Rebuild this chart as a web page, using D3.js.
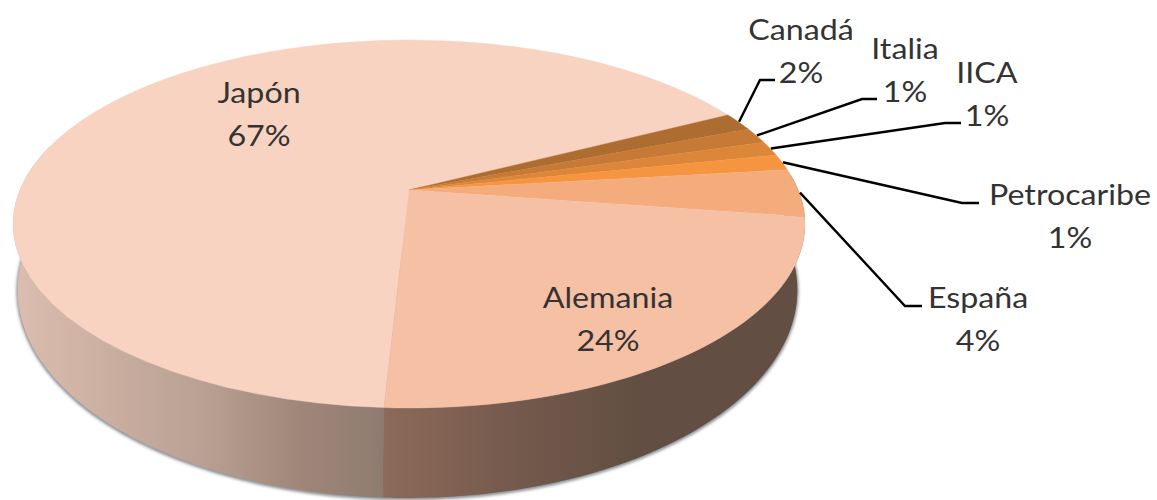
<!DOCTYPE html>
<html><head><meta charset="utf-8">
<style>html,body{margin:0;padding:0;background:#fff}svg{display:block}text{font-family:Lato,"Open Sans",sans-serif;font-size:28.5px;fill:#333;text-anchor:middle}</style>
<script src="https://cdn.jsdelivr.net/npm/d3@7/dist/d3.min.js"></script>
</head><body><svg id="c" width="1157" height="500"></svg>
<script>
// Data, clockwise from the front of the pie
const categories = ["Japón","Canadá","Italia","IICA","Petrocaribe","España","Alemania"];
const shares = [66.6,1.6,1.4,1.3,1.4,4.2,23.5];
const colors = ["#f8d3c1","#ad6c30","#c67a35","#dc863a","#f6953f","#f5ac7c","#f6c0a5"];
// Layout: label centre and first baseline; leader elbow and end
const labelAt = {"Japón":[259,103],"Canadá":[801,40],"Italia":[905,59],"IICA":[987,83],"Petrocaribe":[1070,205],"España":[978,308],"Alemania":[608,308]};
const elbowAt = {"Canadá":[[760,80],[775,80]],"Italia":[[862,99],[877,99]],"IICA":[[945,123],[961,123]],"Petrocaribe":[[962,203],[979,203]],"España":[[905,306],[922,306]]};
const lineGap = 43;
const textStretch = 1.13;

const svg = d3.select("#c");
const rad = d => d*Math.PI/180;
// perspective projections of the top and bottom discs
const disc = (cx,cy,a,b,k) => (alpha,r=1) => {
  const u = r*Math.sin(alpha), v = -r*Math.cos(alpha), w = 1+k*v;
  return [cx+a*u/w, cy+b*v/w];
};
const topDisc = disc(409,190,389.2,177.7,-0.1848);
const botDisc = disc(407.5,248.4,382,199.7,-0.2);

const pie = d3.pie().sort(null).startAngle(rad(183)).endAngle(rad(543));
const arcs = pie(shares).map((d,i)=>({...d,name:categories[i],color:colors[i]}));
const samples = (a0,a1) => d3.range(0,61).map(i=>a0+(a1-a0)*i/60);
const line = d3.line();
const pct = d3.format(".0f");
const total = d3.sum(shares);

const defs = svg.append("defs");
defs.append("filter").attr("id","blur").attr("x","-5%").attr("y","-5%").attr("width","110%").attr("height","110%")
  .append("feGaussianBlur").attr("stdDeviation",1.5);
const grad = (id,stops)=>{
  const g = defs.append("linearGradient").attr("id",id).attr("gradientUnits","userSpaceOnUse")
    .attr("x1",14).attr("x2",800).attr("y1",0).attr("y2",0);
  stops.forEach(s=>g.append("stop").attr("offset",(s[0]-14)/786).attr("stop-color",s[1]));
};
grad("wallJ",[[14,"#dcbdaf"],[200,"#b9a193"],[300,"#a08679"],[384,"#8e7b70"]]);
grad("wallA",[[384,"#8d6a5a"],[520,"#73594c"],[640,"#624e42"],[800,"#624e42"]]);

// shadow under the base
svg.append("path").attr("d",line(samples(rad(90),rad(270)).map(a=>botDisc(a)))+"Z")
  .attr("fill","#8a8f92").attr("stroke","#8a8f92").attr("stroke-width",2.5)
  .attr("filter","url(#blur)").attr("transform","translate(0,1)");

// walls of the slices facing the viewer
const wallFill = {"Japón":"url(#wallJ)","Alemania":"url(#wallA)"};
arcs.filter(d=>wallFill[d.name]).forEach(d=>{
  const [a0,a1] = d.name==="Japón" ? [d.startAngle,rad(285)] : [rad(85),rad(183)];
  const s = samples(a0,a1);
  const pts = s.map(a=>topDisc(a)).concat(s.slice().reverse().map(a=>botDisc(a)));
  svg.append("path").attr("d",line(pts)+"Z").attr("fill",wallFill[d.name]);
});

// top faces
arcs.forEach(d=>{
  const pts = [topDisc(0,0)].concat(samples(d.startAngle,d.endAngle).map(a=>topDisc(a)));
  svg.append("path").attr("d",line(pts)+"Z").attr("fill",d.color).attr("stroke",d.color).attr("stroke-width",.4);
});

// leader lines
arcs.filter(d=>elbowAt[d.name]).forEach(d=>{
  const mid = (d.startAngle+d.endAngle)/2;
  svg.append("path").attr("d",line([topDisc(mid,1.002),...elbowAt[d.name]]))
    .attr("fill","none").attr("stroke","#000").attr("stroke-width",2.4);
});

// labels
const put = (x,y,t) => svg.append("text").attr("transform",`translate(${x},${y}) scale(${textStretch},1)`).text(t);
arcs.forEach(d=>{
  const [x,y] = labelAt[d.name];
  put(x,y,d.name);
  put(x,y+lineGap,pct(d.value/total*100)+"%");
});
</script></body></html>
